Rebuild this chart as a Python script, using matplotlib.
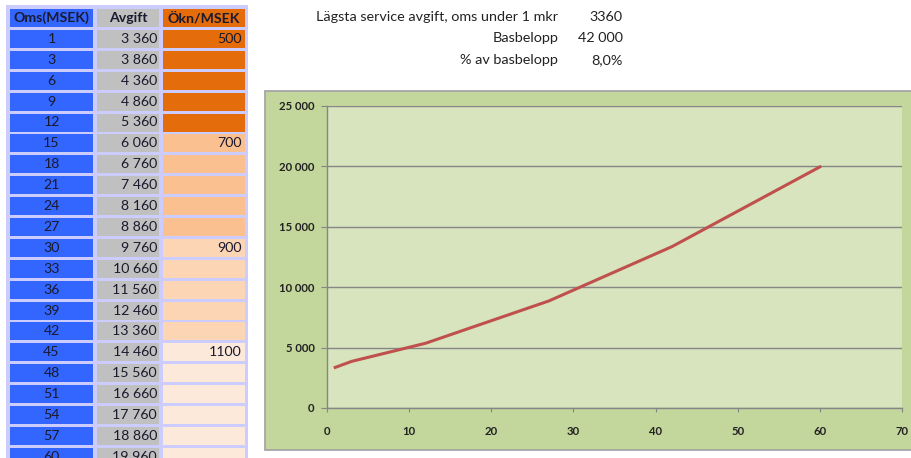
import matplotlib.pyplot as plt
from matplotlib.patches import Rectangle
from matplotlib.ticker import FuncFormatter, MultipleLocator

plt.rcParams['font.family'] = ['Lato', 'DejaVu Sans']

# table data
headers = ['Oms(MSEK)', 'Avgift', 'Ökn/MSEK']
oms = [1, 3, 6, 9, 12, 15, 18, 21, 24, 27, 30, 33, 36, 39, 42, 45, 48, 51, 54, 57, 60]
avgift = [3360, 3860, 4360, 4860, 5360, 6060, 6760, 7460, 8160, 8860, 9760,
          10660, 11560, 12460, 13360, 14460, 15560, 16660, 17760, 18860, 19960]
okn_rows = [0, 5, 10, 15]
okn_values = [500, 700, 900, 1100]

# info block
info_labels = ['Lägsta service avgift, oms under 1 mkr', 'Basbelopp', '% av basbelopp']
info_values = ['3360', '42 000', '8,0%']

W, H = 911, 458
blue = '#3366ff'
grey = '#c0c0c0'
band_colors = ['#e46c0a', '#fac090', '#fcd5b4', '#fde9d9']
lavender = '#ccccff'
txt = '#1a1a2e'


def sp(v):
    return f'{v:,.0f}'.replace(',', ' ')


fig = plt.figure(figsize=(W / 100, H / 100), dpi=100)

# background layer in pixel units
bg = fig.add_axes([0, 0, 1, 1])
bg.set_xlim(0, W)
bg.set_ylim(H, 0)
bg.axis('off')
bg.add_patch(Rectangle((6, 5), 242, 470, fc=lavender, ec='none'))
bg.add_patch(Rectangle((265, 91), 700, 359, fc='#c3d69b', ec='#a6a6a6', lw=1.3))

for i, (lab, val) in enumerate(zip(info_labels, info_values)):
    y = 17 + i * 21.5
    bg.text(558, y, lab, ha='right', va='center', fontsize=10.4, color='#222222')
    bg.text(623, y, val, ha='right', va='center', fontsize=10.4, color='#222222')

# table layer: x in pixels, y in row units
pitch = 20.9
tab = fig.add_axes([0, 0, 260 / W, 1])
tab.set_xlim(0, 260)
tab.set_ylim((H - 9) / pitch, -9 / pitch)
tab.axis('off')

col_x = [10, 97, 163]
col_w = [83, 62, 82]
ch = 18 / pitch
fs = 10.2

for j, h in enumerate(headers):
    c = [blue, grey, band_colors[0]][j]
    tab.add_patch(Rectangle((col_x[j], 0), col_w[j], ch, fc=c, ec='none'))
    tab.text(col_x[j] + col_w[j] / 2, ch / 2, h, ha='center', va='center',
             fontsize=fs, fontweight='bold', color=txt)

for i, (o, a) in enumerate(zip(oms, avgift)):
    k = i + 1
    band = min(i // 5, 3)
    tab.add_patch(Rectangle((col_x[0], k), col_w[0], ch, fc=blue, ec='none'))
    tab.add_patch(Rectangle((col_x[1], k), col_w[1], ch, fc=grey, ec='none'))
    tab.add_patch(Rectangle((col_x[2], k), col_w[2], ch, fc=band_colors[band], ec='none'))
    tab.text(col_x[0] + col_w[0] / 2, k + ch / 2, str(o), ha='center', va='center',
             fontsize=fs, color=txt)
    tab.text(col_x[1] + col_w[1] - 2, k + ch / 2, sp(a), ha='right', va='center',
             fontsize=fs, color=txt)

for r, v in zip(okn_rows, okn_values):
    tab.text(col_x[2] + col_w[2] - 3, r + 1 + ch / 2, str(v), ha='right', va='center',
             fontsize=fs, color=txt)

# chart
ax = fig.add_axes([327 / W, (H - 408) / H, (902 - 327) / W, (408 - 106) / H])
ax.set_facecolor('#d7e4bd')
ax.plot(oms, avgift, color='#c0504d', lw=2.2)
ax.set_xlim(0, 70)
ax.set_ylim(0, 25000)
ax.xaxis.set_major_locator(MultipleLocator(10))
ax.yaxis.set_major_locator(MultipleLocator(5000))
ax.yaxis.set_major_formatter(FuncFormatter(lambda v, p: sp(v)))
ax.grid(axis='y', color='#868686', lw=1)
ax.set_axisbelow(True)
for s in ['top', 'right']:
    ax.spines[s].set_visible(False)
for s in ['left', 'bottom']:
    ax.spines[s].set_color('#868686')
    ax.spines[s].set_linewidth(1)
ax.tick_params(axis='y', length=4, color='#868686', pad=5, labelsize=8.2, labelcolor='#222222')
ax.tick_params(axis='x', length=3, color='#868686', pad=10, labelsize=8.2, labelcolor='#222222')
for lab in ax.get_xticklabels() + ax.get_yticklabels():
    lab.set_fontweight('bold')

fig.savefig('out.png', dpi=100)
